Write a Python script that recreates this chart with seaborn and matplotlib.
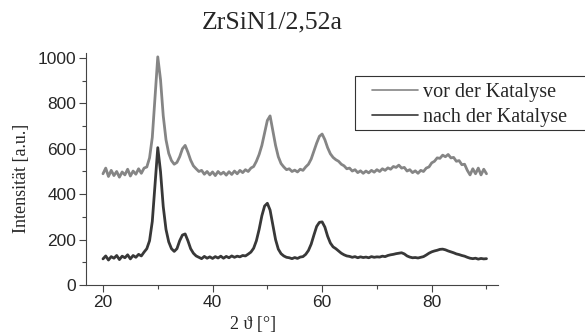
import numpy as np
import pandas as pd
import matplotlib
matplotlib.use('Agg')
import matplotlib.pyplot as plt
from matplotlib.patches import Rectangle
import seaborn as sns

# 2theta grid, 0.5 degree steps
two_theta = np.arange(20, 90.01, 0.5)

# vor der Katalyse
vor = [
    490, 515, 478, 505, 482, 500, 475, 498, 485, 510,   # 20 - 24.5
    480, 502, 488, 512, 492, 515, 520, 560, 650, 830,   # 25 - 29.5
    1005, 905, 745, 640, 580, 548, 532, 540, 565, 600,  # 30 - 34.5
    615, 585, 550, 525, 512, 500, 505, 488, 500, 485,   # 35 - 39.5
    498, 482, 500, 488, 497, 484, 499, 487, 502, 490,   # 40 - 44.5
    505, 495, 508, 500, 515, 522, 545, 575, 615, 670,   # 45 - 49.5
    725, 745, 680, 615, 565, 535, 520, 508, 512, 500,   # 50 - 54.5
    506, 498, 510, 505, 520, 532, 555, 590, 625, 655,   # 55 - 59.5
    665, 640, 605, 578, 562, 552, 545, 532, 525, 512,   # 60 - 64.5
    515, 502, 508, 495, 503, 492, 502, 494, 505, 497,   # 65 - 69.5
    508, 500, 512, 505, 516, 510, 522, 518, 528, 515,   # 70 - 74.5
    518, 502, 508, 495, 503, 492, 505, 500, 515, 520,   # 75 - 79.5
    538, 545, 560, 558, 572, 565, 575, 560, 562, 545,   # 80 - 84.5
    548, 530, 532, 505, 485, 512, 490, 515, 485, 510,   # 85 - 89.5
    490,
]

# nach der Katalyse
nach = [
    115, 128, 110, 125, 118, 130, 112, 127, 120, 133,
    115, 130, 122, 135, 128, 145, 160, 195, 280, 440,
    605, 500, 345, 245, 190, 160, 148, 160, 195, 220,
    225, 195, 160, 140, 128, 122, 116, 126, 118, 124,
    117, 125, 119, 127, 118, 126, 120, 128, 122, 127,
    124, 130, 128, 136, 145, 162, 195, 245, 305, 348,
    360, 330, 265, 200, 158, 138, 128, 122, 120, 116,
    121, 117, 123, 125, 135, 152, 180, 220, 258, 276,
    278, 255, 215, 185, 168, 160, 150, 140, 133, 128,
    126, 122, 125, 120, 124, 121, 123, 120, 125, 122,
    124, 123, 127, 125, 130, 133, 135, 138, 140, 142,
    137, 128, 123, 120, 121, 119, 122, 125, 132, 140,
    146, 150, 153, 157, 158, 155, 150, 146, 142, 137,
    134, 130, 127, 122, 118, 116, 118, 114, 117, 115,
    116,
]

labels = ['vor der Katalyse', 'nach der Katalyse']
farben = ['#858585', '#383838']

df = pd.DataFrame({
    '2theta': np.concatenate([two_theta, two_theta]),
    'I': vor + nach,
    'Probe': [labels[0]] * len(vor) + [labels[1]] * len(nach),
})

sns.set_style('ticks')
plt.rcParams['font.family'] = ['Liberation Sans', 'DejaVu Sans']
serif = ['Liberation Serif', 'DejaVu Serif']

fig = plt.figure(figsize=(5.85, 3.32), dpi=100)
ax = fig.add_axes([86 / 585, 1 - 285 / 332, 412 / 585, 232 / 332])

sns.lineplot(data=df, x='2theta', y='I', hue='Probe', palette=farben,
             hue_order=labels, ax=ax, linewidth=2.0, legend=False)

ax.set_xlim(16.9, 92.1)
ax.set_ylim(0, 1022)
ax.set_xticks([20, 40, 60, 80])
ax.set_xticks([30, 50, 70, 90], minor=True)
ax.set_yticks([0, 200, 400, 600, 800, 1000])
ax.set_yticks([100, 300, 500, 700, 900], minor=True)
ax.tick_params(which='major', length=5, width=0.8, pad=2, labelsize=12.5, color='#444444')
ax.tick_params(which='minor', length=3, width=0.8, color='#444444')
for s in ['top', 'right']:
    ax.spines[s].set_visible(False)
for s in ['left', 'bottom']:
    ax.spines[s].set_color('#444444')
    ax.spines[s].set_linewidth(0.8)

ax.set_xlabel('2 ϑ [°]', family=serif, fontsize=13)
ax.xaxis.set_label_coords(0.405, -0.135)
ax.set_ylabel('Intensität [a.u.]', family=serif, fontsize=13)
ax.yaxis.set_label_coords(-0.135, 0.46)

fig.text(272 / 585, 1 - 22 / 332, 'ZrSiN1/2,52a', family=serif, fontsize=18.5,
         ha='center', va='center')

# Legende ohne eigenen Rahmen, Rahmen separat (läuft über den Bildrand hinaus)
handles = [plt.Line2D([], [], color=c, linewidth=1.2) for c in farben]
leg = ax.legend(handles, labels, loc='upper left',
                bbox_to_anchor=(372 / 585, 1 - 83 / 332),
                bbox_transform=fig.transFigure, frameon=False,
                prop={'family': serif, 'size': 14.5}, handlelength=2.3,
                borderpad=0, labelspacing=0.3, handletextpad=0.25,
                borderaxespad=0)
fig.patches.append(Rectangle((355 / 585, 1 - 130 / 332), 250 / 585, 54 / 332,
                             transform=fig.transFigure, fill=False,
                             edgecolor='#333333', linewidth=0.8))

plt.savefig('out.png', dpi=100)
